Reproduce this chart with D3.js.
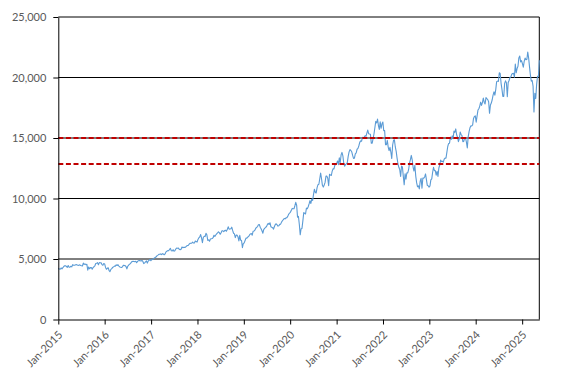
<!DOCTYPE html>
<html>
<head>
<meta charset="utf-8">
<script src="https://cdn.jsdelivr.net/npm/d3@7"></script>
<style>
  html, body { margin: 0; padding: 0; background: #ffffff; }
  svg { display: block; }
  text { font-family: Lato, "Open Sans", sans-serif; }
</style>
</head>
<body>
<div id="chart"></div>
<script>
// ---- Data (weekly closes) ----
const startDate = "2015-01-02";   // first weekly observation (Friday)
const w2015 = [4230,4180,4150,4260,4190,4280,4380,4440,4440,4380,4310,4460,4320,4330,4400,4350,4530,4480,4480,4510,4540,4510,4480,4470,4520,4460,4440,4420,4660,4560,4590,4530,4560,4080,4340,4190,4290,4300,4160,4300,4360,4440,4630,4650,4700,4530,4700,4690,4680,4540,4480,4620];
const w2016 = [4590,4300,4150,4230,4280,4040,3960,4140,4200,4310,4340,4420,4410,4520,4460,4530,4420,4340,4320,4300,4350,4480,4470,4450,4380,4180,4400,4500,4570,4620,4730,4790,4810,4800,4780,4810,4690,4800,4860,4880,4860,4830,4880,4800,4620,4680,4760,4840,4660,4830,4900,4960,4860];
const w2017 = [4940,4990,5000,5100,5130,5180,5280,5320,5380,5390,5420,5360,5440,5410,5350,5420,5590,5640,5690,5680,5790,5880,5680,5660,5770,5650,5680,5820,5910,5890,5900,5800,5760,5810,5990,5930,5970,5960,5980,6060,6110,6110,6220,6290,6300,6310,6390,6320,6320,6480,6450,6400];
const w2018 = [6620,6750,6830,7020,6750,6350,6780,6880,6850,7120,7000,6540,6580,6470,6650,6670,6690,6760,6960,6860,6980,7080,7160,7250,7180,7040,7170,7340,7330,7260,7350,7380,7290,7450,7660,7470,7480,7500,7630,7360,7130,7080,6770,6970,6970,6830,6500,6950,6560,6530,5930,6290];
const w2019 = [6330,6530,6730,6720,6820,6860,6990,7070,7100,6970,7290,7310,7380,7540,7610,7680,7830,7850,7630,7500,7330,7130,7450,7520,7620,7670,7830,7940,7860,8000,7670,7620,7590,7470,7690,7850,7910,7830,7720,7750,7860,7880,8050,8160,8250,8350,8320,8400,8420,8520,8700,8780];
const w2020 = [8870,9020,9180,9150,9150,9400,9680,9450,8460,8530,7870,7000,7500,7530,8150,8830,8780,8720,9210,9150,9320,9550,9820,9590,9950,9850,10340,10770,10500,10460,10900,11140,11180,11630,12110,11630,11090,10940,11120,11330,11850,11850,11670,11050,12010,11940,11900,12260,12460,12440,12760,12810];
const w2021 = [12890,13100,12800,13370,12930,13600,13810,13530,12900,12670,12810,12860,12970,13480,13850,14040,13970,13860,13560,13310,13330,13690,13770,14070,14140,14360,14640,14760,14730,15060,14960,15080,15190,15140,15400,15650,15360,15330,15310,14570,14580,14950,15330,15850,16370,16250,16570,16030,15710,16330,15800,16170,16320];
const w2022 = [15600,15610,14440,14450,14800,14250,13950,14230,13840,13300,14420,14810,14850,14260,13890,13340,12850,12580,12390,11830,12680,12610,11830,11130,12050,11600,12130,12120,12400,12950,13210,13560,13200,12600,12270,12740,11850,11310,10970,11040,10800,11430,11670,10850,11700,11670,11780,12030,11560,11080,11050,10940];
const w2023 = [11040,11540,11620,12170,12570,12300,12310,11930,12250,11830,12520,12770,13180,13060,13080,13000,13250,13340,13340,13810,14300,14550,14570,15080,14890,15180,14940,15570,15470,15750,15270,15060,14700,14940,15500,15290,15200,14700,14720,15020,15000,14660,14180,15100,15530,15840,16000,15990,16080,16620,16780,16830];
const w2024 = [16300,16830,17310,17420,17640,17960,17690,17930,18300,17960,17810,18340,18250,18170,18000,17040,17720,17890,18160,18550,18810,18540,19000,19660,19700,19680,20390,20330,19520,19020,18440,18430,19510,19720,19570,18420,19580,19750,20000,20050,20270,20330,20350,20030,21120,20390,20740,20930,21620,21780,21290,21390];
const w2025 = [21150,20850,21330,21600,21480,21490,22110,21610,20880,20200,19700,19750,19280,17150,18690,18260,19430,20100,20060,21430];

const yTicks = [0, 5000, 10000, 15000, 20000, 25000];
const xTickYears = [2015,2016,2017,2018,2019,2020,2021,2022,2023,2024,2025];
const thresholds = [15000, 12850];

// ---- Build series ----
const values = [].concat(w2015, w2016, w2017, w2018, w2019, w2020, w2021, w2022, w2023, w2024, w2025);
const parse = d3.utcParse("%Y-%m-%d");
const t0 = parse(startDate);
const series = values.map((v, i) => ({ date: d3.utcDay.offset(t0, 7 * i), value: v }));

// ---- Layout ----
const W = 567, H = 383;
const L = 58.3, R = 539.3, T = 17, B = 319.5;

const svg = d3.select("#chart").append("svg")
  .attr("width", W).attr("height", H).attr("viewBox", `0 0 ${W} ${H}`);

const x = d3.scaleUtc()
  .domain([d3.utcParse("%Y")("2015"), series[series.length - 1].date])
  .range([L, R]);
const y = d3.scaleLinear().domain([0, 25000]).range([B, T]);

// gridlines
svg.append("g").selectAll("line").data(yTicks.filter(d => d > 0)).join("line")
  .attr("x1", L).attr("x2", R)
  .attr("y1", d => y(d)).attr("y2", d => y(d))
  .attr("stroke", "#000").attr("stroke-width", 1);

// right border
svg.append("line").attr("x1", R).attr("x2", R).attr("y1", T).attr("y2", B)
  .attr("stroke", "#000").attr("stroke-width", 1);

// series line
const line = d3.line().x(d => x(d.date)).y(d => y(d.value));
svg.append("path").datum(series)
  .attr("fill", "none").attr("stroke", "#5b9bd5").attr("stroke-width", 1.1)
  .attr("stroke-linejoin", "round")
  .attr("d", line);

// threshold dashed lines
svg.append("g").selectAll("line").data(thresholds).join("line")
  .attr("x1", L).attr("x2", R)
  .attr("y1", d => y(d)).attr("y2", d => y(d))
  .attr("stroke", "#c00000").attr("stroke-width", 2)
  .attr("stroke-dasharray", "5,2.6");

// y axis
const yAxis = d3.axisLeft(y).tickValues(yTicks).tickFormat(d3.format(","))
  .tickSizeInner(5).tickSizeOuter(0).tickPadding(7);
const gy = svg.append("g").attr("transform", `translate(${L},0)`).call(yAxis);
gy.select(".domain").attr("stroke", "#000");
gy.selectAll(".tick line").attr("stroke", "#000");
gy.selectAll(".tick text").attr("fill", "#595959").style("font-size", "11px")
  .style("font-family", "Lato, 'Open Sans', sans-serif");

// x axis
const xAxis = d3.axisBottom(x)
  .tickValues(xTickYears.map(yr => d3.utcParse("%Y")(String(yr))))
  .tickFormat(d3.utcFormat("%b-%Y"))
  .tickSizeInner(5).tickSizeOuter(0);
const gx = svg.append("g").attr("transform", `translate(0,${B})`).call(xAxis);
gx.select(".domain").attr("stroke", "#000");
gx.selectAll(".tick line").attr("stroke", "#000");
gx.selectAll(".tick text")
  .attr("fill", "#595959").style("font-size", "11px")
  .style("font-family", "Lato, 'Open Sans', sans-serif")
  .attr("x", 0).attr("y", 0).attr("dy", 0)
  .attr("text-anchor", "end")
  .attr("transform", "translate(4.5,16) rotate(-45)");
</script>
</body>
</html>
